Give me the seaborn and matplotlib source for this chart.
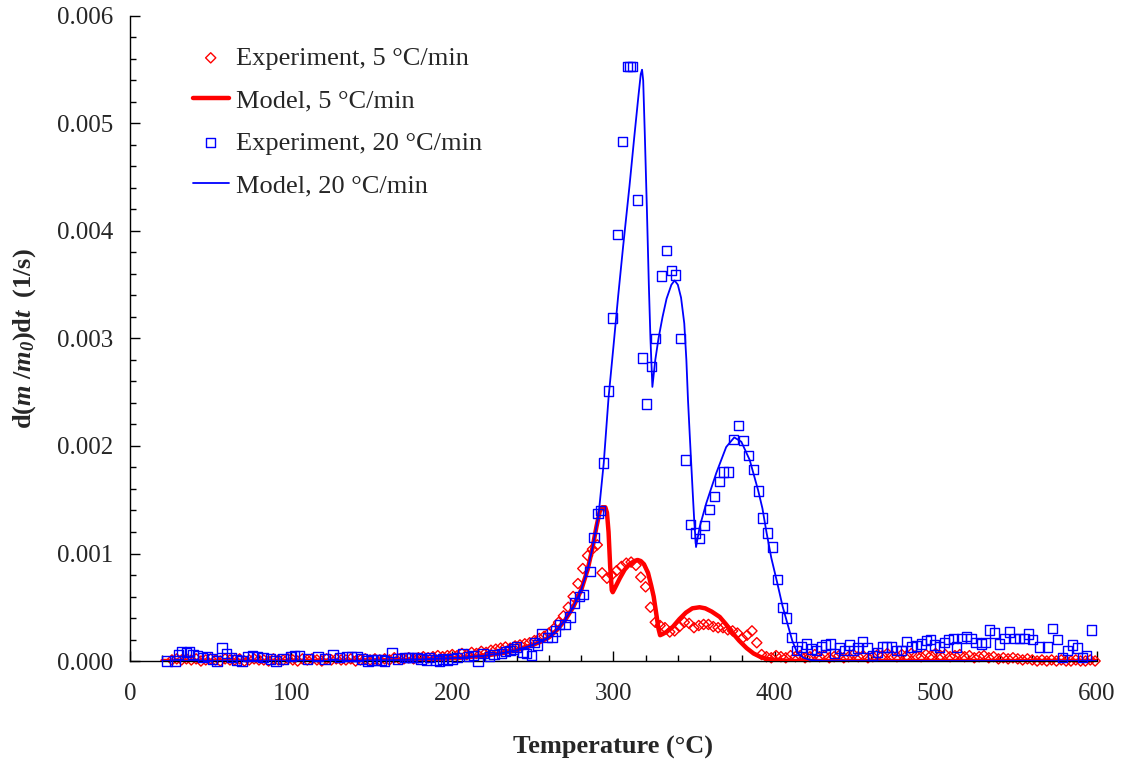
import numpy as np
import pandas as pd
import matplotlib
matplotlib.use('Agg')
import matplotlib.pyplot as plt
import seaborn as sns
from matplotlib.ticker import MultipleLocator, FormatStrFormatter

# Experiment, 5 C/min (diamonds)
exp5_T = [26, 29, 32, 35, 38, 41, 44, 47, 50, 53, 56, 59, 62, 65, 68, 71, 74, 77, 80, 83,
          86, 89, 92, 95, 98, 101, 104, 107, 110, 113, 116, 119, 122, 125, 128, 131, 134, 137, 140, 143,
          146, 149, 152, 155, 158, 161, 164, 167, 170, 173, 176, 179, 182, 185, 188, 191, 194, 197, 200, 203,
          206, 209, 212, 215, 218, 221, 224, 227, 230, 233, 236, 239, 242, 245, 248, 251, 254, 257, 260, 263,
          266, 269, 272, 275, 278, 281, 284, 287, 290, 293, 296, 299, 302, 305, 308, 311, 314, 317, 320, 323,
          326, 329, 332, 335, 338, 341, 344, 347, 350, 353, 356, 359, 362, 365, 368, 371, 374, 377, 380, 383,
          386, 389, 392, 395, 398, 401, 404, 407, 410, 413, 416, 419, 422, 425, 428, 431, 434, 437, 440, 443,
          446, 449, 452, 455, 458, 461, 464, 467, 470, 473, 476, 479, 482, 485, 488, 491, 494, 497, 500, 503,
          506, 509, 512, 515, 518, 521, 524, 527, 530, 533, 536, 539, 542, 545, 548, 551, 554, 557, 560, 563,
          566, 569, 572, 575, 578, 581, 584, 587, 590, 593, 596, 599]
exp5_v = [0.00001, 0.00002, 0.00001, 0.00002, 0.00001, 0.00002, 0.00000, 0.00001, 0.00002, 0.00001,
          0.00000, 0.00002, 0.00001, 0.00001, 0.00002, 0.00000, 0.00001, 0.00002, 0.00001, 0.00001,
          0.00000, 0.00002, 0.00001, 0.00001, 0.00002, 0.00001, 0.00000, 0.00002, 0.00001, 0.00002,
          0.00001, 0.00000, 0.00002, 0.00001, 0.00002, 0.00001, 0.00001, 0.00002, 0.00000, 0.00001,
          0.00002, 0.00001, 0.00002, 0.00001, 0.00002, 0.00001, 0.00003, 0.00002, 0.00002, 0.00003,
          0.00002, 0.00003, 0.00004, 0.00003, 0.00004, 0.00005, 0.00004, 0.00005, 0.00006, 0.00005,
          0.00007, 0.00006, 0.00008, 0.00007, 0.00009, 0.00008, 0.00010, 0.00011, 0.00012, 0.00013,
          0.00012, 0.00014, 0.00015, 0.00016, 0.00017, 0.00019, 0.00021, 0.00023, 0.00026, 0.00030,
          0.00036, 0.00042, 0.00050, 0.00060, 0.00072, 0.00086, 0.00098, 0.00104, 0.00108, 0.00082,
          0.00077, 0.00080, 0.00084, 0.00088, 0.00091, 0.00092, 0.00089, 0.00078, 0.00069, 0.00050,
          0.00036, 0.00033, 0.00031, 0.00027, 0.00028, 0.00032, 0.00036, 0.00035, 0.00031, 0.00033,
          0.00034, 0.00034, 0.00032, 0.00031, 0.00031, 0.00029, 0.00028, 0.00026, 0.00021, 0.00024,
          0.00028, 0.00017, 0.00006, 0.00004, 0.00003, 0.00005, 0.00004, 0.00003, 0.00005, 0.00004,
          0.00005, 0.00003, 0.00004, 0.00006, 0.00004, 0.00005, 0.00003, 0.00004, 0.00005, 0.00003,
          0.00004, 0.00006, 0.00004, 0.00005, 0.00003, 0.00004, 0.00006, 0.00005, 0.00007, 0.00005,
          0.00004, 0.00006, 0.00005, 0.00007, 0.00005, 0.00004, 0.00006, 0.00005, 0.00007, 0.00005,
          0.00006, 0.00004, 0.00005, 0.00006, 0.00004, 0.00005, 0.00003, 0.00004, 0.00005, 0.00003,
          0.00004, 0.00002, 0.00003, 0.00002, 0.00003, 0.00002, 0.00001, 0.00002, 0.00001, 0.00000,
          0.00001, 0.00000, 0.00001, 0.00000, 0.00001, 0.00000, 0.00000, 0.00001, 0.00000, 0.00000,
          0.00001, 0.00000]

# Model, 5 C/min
mod5_T = [20, 60, 100, 140, 170, 190, 205, 220, 230, 240, 250, 255, 260, 265, 270, 275, 280, 284, 287,
          289.5, 291.5, 293, 295, 296, 297, 298, 299, 299.6, 301, 304, 307, 310, 313, 315, 317, 319, 321.5,
          323.5, 325, 326.5, 328, 329, 330.5, 333, 337, 341, 345, 349, 353.5, 357, 361, 366, 370, 374, 378,
          382.7, 387, 391, 395, 400, 410, 450, 600]
mod5_v = [0, 0, 0, 0.000003, 0.00001, 0.00002, 0.00003, 0.00005, 0.00007, 0.0001, 0.00015, 0.00018,
          0.00022, 0.00029, 0.00038, 0.0005, 0.00066, 0.00085, 0.00105, 0.00125, 0.00139, 0.00143, 0.00143,
          0.00138, 0.0012, 0.00088, 0.00066, 0.00064, 0.00068, 0.00077, 0.00085, 0.0009, 0.00093, 0.00094,
          0.00093, 0.0009, 0.00082, 0.0007, 0.0006, 0.00045, 0.0003, 0.00024, 0.00025, 0.00027, 0.00032,
          0.00039, 0.00045, 0.00049, 0.0005, 0.00049, 0.00046, 0.00041, 0.00034, 0.00026, 0.00019, 0.00012,
          0.00007, 0.00004, 0.00002, 0.00001, 0.0, 0.0, 0.0]

# Experiment, 20 C/min (squares)
exp20_T = [23, 28, 30, 32, 35, 37, 39, 42, 45, 48, 51, 54, 57, 60, 63, 66, 69.5, 73, 76, 79,
           82.5, 87, 90.6, 95, 100, 102, 105, 110, 116.6, 121, 126, 130, 134.6, 137.5, 140.8, 144, 147.6, 150,
           153, 156, 158, 162.5, 166, 170.6, 173, 175, 178, 180.5, 184, 186, 190, 192, 194, 197, 200, 203,
           206.6, 210, 213, 216, 219, 223, 226, 230.7, 233, 235.7, 238, 240, 244, 246, 249, 251, 253, 255.6,
           259, 262, 264, 266.7, 270, 273, 276, 279, 281.6, 285.4, 288, 290.5, 292, 294, 297.1, 299.6, 302.7,
           305.8, 308.9, 310.2, 312, 315.1, 318.2, 320.7, 323.8, 326.3, 330, 333.1, 336.2, 338.7, 341.8, 344.9,
           348, 351.1, 353.6, 356.7, 359.8, 362.9, 366, 368.5, 371.6, 374.7, 377.8, 380.9, 384, 387.1, 390.2,
           392.7, 395.8, 398.9, 402, 405, 407.6, 410.7, 413.7, 416.9, 420, 423, 426, 429, 431.8, 434.8, 437.3,
           440.4, 443.5, 446.7, 449, 451.6, 454.7, 457.8, 461, 464, 467, 469.6, 472.7, 475.8, 478.9, 482, 485,
           488, 491.3, 494.4, 496.9, 499.4, 502.5, 505.6, 508, 511, 513, 516, 519, 522, 525, 528.5, 531, 533.5,
           536.6, 539.7, 542.8, 546, 549, 552, 555, 557.7, 560, 564.5, 569.5, 572.6, 575.7, 578.8, 582, 585,
           588, 591, 593.7, 596.8]
exp20_v = [0.0, 0.0, 0.00006, 0.00009, 0.00008, 0.00009, 0.00006, 0.00005, 0.00003, 0.00004,
           0.00002, 0.0, 0.00012, 0.00007, 0.00003, 0.00001, 0.0, 0.00004, 0.00005, 0.00004,
           0.00003, 0.00002, 0.0, 0.00002, 0.00004, 0.00005, 0.00005, 0.00002, 0.00004, 0.00002,
           0.00006, 0.00003, 0.00004, 0.00004, 0.00004, 0.00002, 0.0, 0.00001, 0.00001, 0.00001,
           0.0, 0.00008, 0.00002, 0.00003, 0.00003, 0.00003, 0.00003, 0.00002, 0.00001, 0.00003,
           0.00001, 0.0, 0.00002, 0.00001, 0.00002, 0.00003, 0.00007, 0.00004, 0.00005, 0.0,
           0.00007, 0.00004, 0.00006, 0.00007, 0.00009, 0.0001, 0.00011, 0.00013, 0.00008, 0.00007,
           0.00005, 0.00017, 0.00015, 0.00025, 0.00022, 0.00022, 0.00028, 0.00034, 0.00034, 0.00041,
           0.00054, 0.0006, 0.00062, 0.00083, 0.00115, 0.00137, 0.0014, 0.00184, 0.00251, 0.00319,
           0.00397, 0.00483, 0.00553, 0.00553, 0.00553, 0.00429, 0.00282, 0.00239, 0.00274, 0.003,
           0.00358, 0.00382, 0.00363, 0.00359, 0.003, 0.00187, 0.00127, 0.00119, 0.00114, 0.00126,
           0.00141, 0.00153, 0.00167, 0.00176, 0.00176, 0.00206, 0.00219, 0.00205, 0.00191, 0.00178,
           0.00158, 0.00133, 0.00119, 0.00106, 0.00076, 0.0005, 0.0004, 0.00022, 0.0001, 0.00013,
           0.00016, 0.00011, 0.0001, 0.00013, 0.00015, 0.00016, 0.00007, 0.00012, 0.0001, 0.00015,
           0.0001, 0.00012, 0.00018, 0.00012, 0.00005, 0.00008, 0.00013, 0.00013, 0.00013, 0.0001,
           0.0001, 0.00018, 0.00013, 0.00014, 0.00016, 0.00019, 0.0002, 0.00015, 0.00013, 0.00017,
           0.0002, 0.00021, 0.00013, 0.00021, 0.00023, 0.00021, 0.00017, 0.00016, 0.00017, 0.00029,
           0.00026, 0.00016, 0.00021, 0.00027, 0.00021, 0.00021, 0.00021, 0.00025, 0.0002, 0.00013,
           0.00013, 0.0003, 0.0002, 0.00003, 0.0001, 0.00015, 0.00012, 0.00003, 0.00005, 0.00029]

# Model, 20 C/min
mod20_T = [20, 60, 100, 140, 170, 190, 205, 220, 230, 240, 250, 255, 260, 265, 270, 275, 280, 284, 287,
           289.5, 291, 294, 297, 300, 303, 306, 310, 313, 315.5, 317, 317.8, 318.5, 319.5, 320.8, 322, 323,
           324.2, 326, 328, 330.5, 333, 336, 338, 340, 342, 344, 345.3, 346.3, 347.4, 348.4, 349.3, 350.2,
           351.3, 353.6, 357.7, 363.9, 370, 375, 379.4, 384.6, 389.8, 392.5, 395, 398, 401.5, 405, 408, 411,
           414, 418, 422, 430, 600]
mod20_v = [0, 0, 0, 0.000003, 0.00001, 0.00002, 0.00003, 0.00005, 0.00007, 0.0001, 0.00015, 0.00018,
           0.00022, 0.00029, 0.00038, 0.0005, 0.00066, 0.00085, 0.00105, 0.00125, 0.00139, 0.00184, 0.00245,
           0.00292, 0.0034, 0.00385, 0.00442, 0.00488, 0.00525, 0.00546, 0.0055, 0.0054, 0.0049, 0.0042,
           0.0035, 0.003, 0.00255, 0.0028, 0.003, 0.0032, 0.00337, 0.0035, 0.00354, 0.0035, 0.00338, 0.00314,
           0.0028, 0.00243, 0.0021, 0.00181, 0.00155, 0.0013, 0.00106, 0.00125, 0.00147, 0.00175, 0.00199,
           0.00208, 0.00204, 0.00187, 0.00159, 0.00142, 0.0012, 0.00096, 0.00074, 0.00051, 0.00035, 0.00019,
           0.00008, 0.00003, 0.00001, 0.0, 0.0]

sns.set_style('ticks')
plt.rcParams['font.family'] = ['Liberation Serif', 'DejaVu Serif']
plt.rcParams['mathtext.fontset'] = 'custom'
plt.rcParams['mathtext.rm'] = 'Liberation Serif'
plt.rcParams['mathtext.it'] = 'Liberation Serif:italic'
plt.rcParams['mathtext.bf'] = 'Liberation Serif:bold'
plt.rcParams['mathtext.bfit'] = 'Liberation Serif:italic:bold'
plt.rcParams['xtick.direction'] = 'in'
plt.rcParams['ytick.direction'] = 'in'

fig, ax = plt.subplots(figsize=(11.26, 7.61), dpi=100)
fig.subplots_adjust(left=0.1155, right=0.974, bottom=0.1314, top=0.979)

red = '#FF0000'
blue = '#0000FF'

sns.scatterplot(x=exp5_T, y=exp5_v, ax=ax, marker='D', s=27, facecolors='none',
                edgecolor=red, linewidth=1.0, clip_on=False, label='Experiment, 5 °C/min', zorder=2)
sns.lineplot(x=mod5_T, y=mod5_v, ax=ax, color=red, linewidth=3.2, estimator=None,
             label='Model, 5 °C/min', zorder=3)
sns.scatterplot(x=exp20_T, y=exp20_v, ax=ax, marker='s', s=46, facecolors='none',
                edgecolor=blue, linewidth=1.0, clip_on=False, label='Experiment, 20 °C/min', zorder=4)
sns.lineplot(x=mod20_T, y=mod20_v, ax=ax, color=blue, linewidth=1.3, estimator=None,
             label='Model, 20 °C/min', zorder=5)

ax.set_xlim(0, 600)
ax.set_ylim(0, 0.006)
ax.xaxis.set_major_locator(MultipleLocator(100))
ax.xaxis.set_minor_locator(MultipleLocator(20))
ax.yaxis.set_major_locator(MultipleLocator(0.001))
ax.yaxis.set_minor_locator(MultipleLocator(0.0002))
ax.yaxis.set_major_formatter(FormatStrFormatter('%.3f'))
ax.tick_params(which='both', direction='in', labelsize=18, width=1.0, color='black')
ax.tick_params(axis='x', which='major', direction='in', length=7, pad=16)
ax.tick_params(axis='y', which='major', direction='in', length=7, pad=12)
ax.tick_params(which='minor', direction='in', length=4.5)
sns.despine(ax=ax)
for sp in ['left', 'bottom']:
    ax.spines[sp].set_linewidth(1.0)
    ax.spines[sp].set_color('black')

ax.set_xlabel('Temperature (°C)', fontsize=19, fontweight='bold', labelpad=22)
ax.set_ylabel(r'$\mathbf{d(}\mathbfit{m}\mathbf{\ /}\mathbfit{m}_{\mathbfit{0}}\mathbf{)d}\mathbfit{t}\mathbf{\ \ (1/s)}$',
              fontsize=19, labelpad=14)

ax.legend(loc='upper left', bbox_to_anchor=(0.065, 0.953), frameon=False, fontsize=19,
          borderpad=0, borderaxespad=0, handlelength=1.35, handletextpad=0.3, labelspacing=0.72)

fig.savefig('out.png', dpi=100)
